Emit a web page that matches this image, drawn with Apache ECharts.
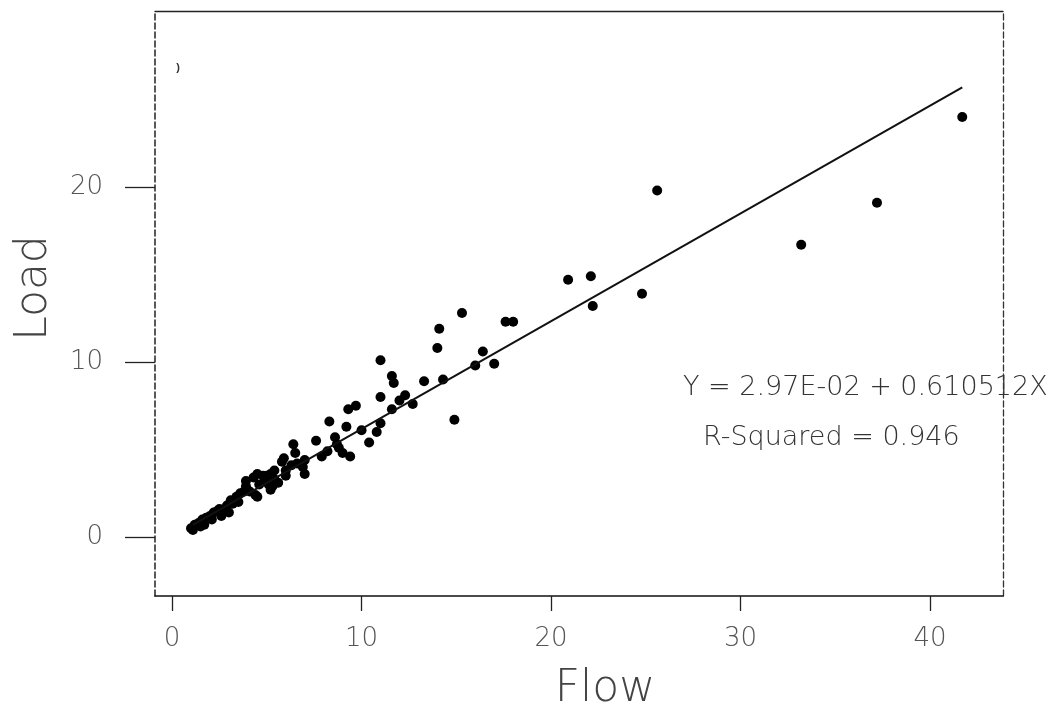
<!DOCTYPE html>
<html>
<head>
<meta charset="utf-8">
<script src="https://cdn.jsdelivr.net/npm/echarts@6/dist/echarts.min.js"></script>
<style>
html,body{margin:0;padding:0;background:#fff;}
#chart{width:1056px;height:717px;}
</style>
</head>
<body>
<div id="chart"></div>
<script>
// Flow (x) values
const flow = [41.7, 37.2, 33.2, 25.6, 24.8, 22.2, 22.1, 20.9, 18.0, 17.6,
  17.0, 16.4, 16.0, 15.3, 14.9, 14.3, 14.1, 14.0, 13.3, 12.7,
  12.3, 12.0, 11.7, 11.6, 11.6, 11.0, 11.0, 11.0, 10.8, 10.4,
  10.0, 9.7, 9.3, 9.2, 9.4, 9.0, 8.8, 8.7, 8.6, 8.3,
  8.2, 7.9, 7.6, 7.0, 6.9, 7.0, 6.5, 6.4, 6.0, 6.0,
  5.9, 5.8, 5.4, 5.2, 5.0, 4.8, 5.4, 5.3, 5.1, 4.9,
  5.2, 4.5, 4.3, 3.9, 3.9, 4.1, 4.4, 3.8, 3.6, 3.4,
  3.1, 3.2, 2.9, 2.5, 2.7, 2.4, 2.2, 2.0, 1.8, 2.1,
  1.6, 1.4, 1.7, 1.2, 1.0, 1.1, 4.5, 3.0, 2.6, 5.6,
  6.3, 3.5, 1.5, 2.8, 4.6, 6.6];
// Load (y) values
const load = [24.0, 19.1, 16.7, 19.8, 13.9, 13.2, 14.9, 14.7, 12.3, 12.3,
  9.9, 10.6, 9.8, 12.8, 6.7, 9.0, 11.9, 10.8, 8.9, 7.6,
  8.1, 7.8, 8.8, 9.2, 7.3, 10.1, 8.0, 6.5, 6.0, 5.4,
  6.1, 7.5, 7.3, 6.3, 4.6, 4.8, 5.1, 5.3, 5.7, 6.6,
  4.9, 4.6, 5.5, 4.4, 4.0, 3.6, 4.8, 5.3, 3.8, 3.5,
  4.5, 4.3, 3.8, 3.6, 3.5, 3.5, 3.3, 2.9, 3.0, 3.2,
  2.7, 3.6, 3.4, 3.2, 2.9, 2.6, 2.4, 2.6, 2.5, 2.3,
  2.1, 1.9, 1.8, 1.6, 1.5, 1.5, 1.4, 1.2, 1.1, 1.0,
  1.0, 0.8, 0.7, 0.7, 0.5, 0.4, 2.3, 1.4, 1.2, 3.1,
  4.1, 2.0, 0.6, 1.6, 3.0, 4.2];
// Fitted line end points
const fitFlow = [1.1, 41.7];
const fitLoad = [0.7, 25.7];
const xTicks = [0, 10, 20, 30, 40];
const yTicks = [0, 10, 20];
const eqText = 'Y = 2.97E-02 + 0.610512X';
const r2Text = 'R-Squared = 0.946';

const points = flow.map((f, i) => [f, load[i]]);
const fitLine = fitFlow.map((f, i) => [f, fitLoad[i]]);

const chart = echarts.init(document.getElementById('chart'), null, {renderer: 'canvas'});
const labelFont = 'DejaVu Sans';
chart.setOption({
  animation: false,
  backgroundColor: '#ffffff',
  grid: {left: 155, right: 53, top: 11, bottom: 121, containLabel: false},
  xAxis: [{
    type: 'value', min: -0.9, max: 43.85,
    axisLine: {show: true, onZero: false, lineStyle: {color: '#111', width: 1.6}},
    axisTick: {show: true, customValues: xTicks, length: 15, lineStyle: {color: '#222', width: 1.3}},
    axisLabel: {show: true, customValues: xTicks, margin: 30, fontSize: 26, color: '#555', fontFamily: labelFont, fontWeight: 200},
    splitLine: {show: false}
  }, {
    type: 'value', min: -0.9, max: 43.85, position: 'top',
    axisLine: {show: true, onZero: false, lineStyle: {color: '#222', width: 1.4}},
    axisTick: {show: false}, axisLabel: {show: false}, splitLine: {show: false}
  }],
  yAxis: [{
    type: 'value', min: -3.37, max: 30.06,
    axisLine: {show: true, onZero: false, lineStyle: {color: '#222', width: 1.5, type: [6, 3]}},
    axisTick: {show: true, customValues: yTicks, length: 30, lineStyle: {color: '#222', width: 1.3}},
    axisLabel: {show: true, customValues: yTicks, margin: 52, fontSize: 26, color: '#555', fontFamily: labelFont, fontWeight: 200},
    splitLine: {show: false}
  }, {
    type: 'value', min: -3.37, max: 30.06, position: 'right',
    axisLine: {show: true, onZero: false, lineStyle: {color: '#333', width: 1.3, type: [6, 3]}},
    axisTick: {show: false}, axisLabel: {show: false}, splitLine: {show: false}
  }],
  series: [{
    name: 'Observed', type: 'scatter', data: points,
    symbol: 'circle', symbolSize: 10,
    itemStyle: {color: '#000', opacity: 1}
  }, {
    name: 'Fit', type: 'line', data: fitLine,
    showSymbol: false, symbol: 'none',
    lineStyle: {color: '#111', width: 2}
  }],
  graphic: [
    {type: 'text', x: 605, y: 690, style: {text: 'Flow', align: 'center', verticalAlign: 'middle', fontSize: 44, fontFamily: labelFont, fontWeight: 200, fill: '#444'}},
    {type: 'text', rotation: Math.PI / 2, x: 35, y: 288, style: {text: 'Load', align: 'center', verticalAlign: 'middle', fontSize: 44, fontFamily: labelFont, fontWeight: 200, fill: '#444'}},
    {type: 'text', x: 683, y: 388, style: {text: eqText, align: 'left', verticalAlign: 'middle', fontSize: 27, fontFamily: labelFont, fontWeight: 200, fill: '#333'}},
    {type: 'text', x: 703, y: 438, style: {text: r2Text, align: 'left', verticalAlign: 'middle', fontSize: 27, fontFamily: labelFont, fontWeight: 200, fill: '#333'}},
    {type: 'text', x: 178, y: 68, style: {text: ')', align: 'center', verticalAlign: 'middle', fontSize: 11, fontWeight: 'bold', fill: '#333'}}
  ]
});
</script>
</body>
</html>
